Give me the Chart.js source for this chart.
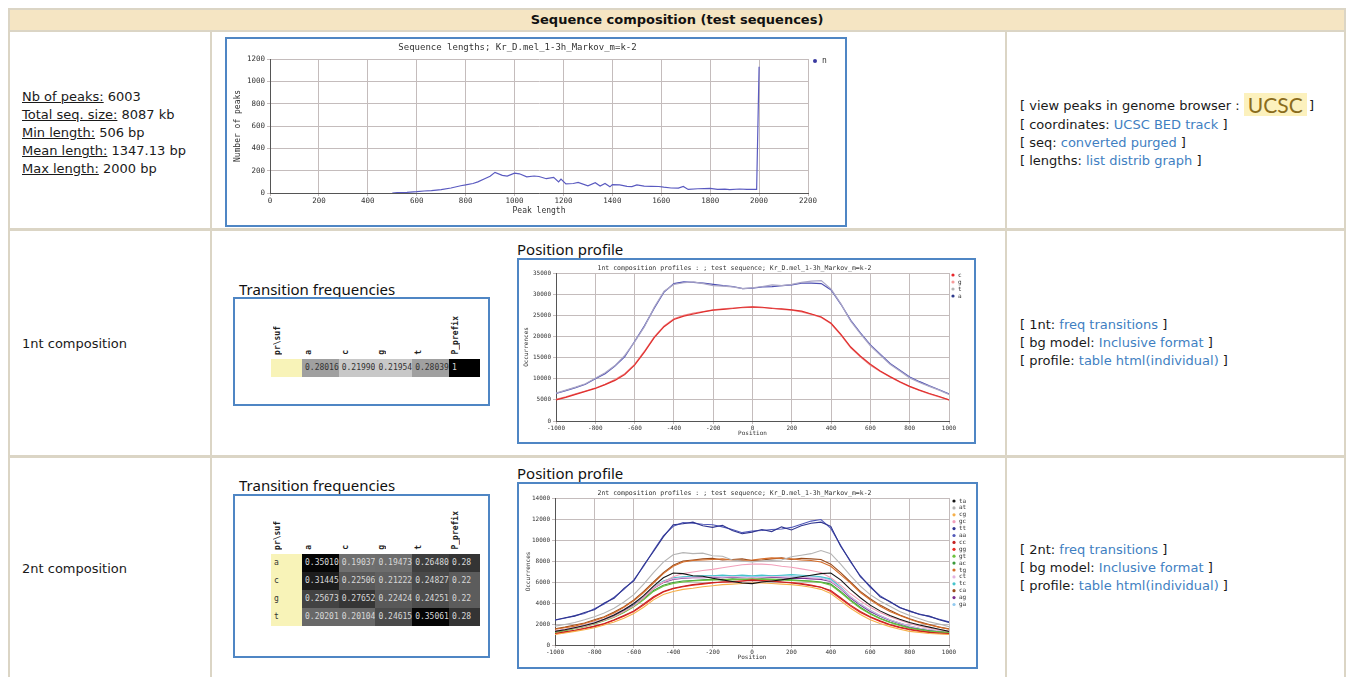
<!DOCTYPE html>
<html>
<head>
<meta charset="utf-8">
<script src="https://cdn.jsdelivr.net/npm/chart.js@4.4.1/dist/chart.umd.min.js"></script>
<style>
body{margin:0;width:1352px;height:677px;overflow:hidden;background:#fff;position:relative;
  font-family:"DejaVu Sans",Verdana,sans-serif;font-size:13px;color:#1a1a1a}
.ln{position:absolute;background:#dbd5c5}
.box{position:absolute;border:2px solid #4f86c4;box-sizing:border-box;background:#fff}
.lines{position:absolute;white-space:nowrap}
.lines div{height:18px;line-height:18px}
.lines div.tall{height:20px;line-height:20px}
a{color:#3f7fc2;text-decoration:none}
.cap{position:absolute;font-family:"Noto Sans",sans-serif;font-size:15px;color:#111;white-space:nowrap}
.ucsc{display:inline-block;height:20px;vertical-align:top;position:relative;width:61px}
.ucsc span{position:absolute;left:0;top:-3px;font-family:Lato,sans-serif;font-size:21px;line-height:23px;color:#8a6c1c;
  background:#fcf1bd;padding:0 4px}
table.tf{position:absolute;border-collapse:collapse;table-layout:fixed}
table.tf td{width:31px;height:18px;padding:0 0 0 3px;box-sizing:border-box;font:8px "DejaVu Sans Mono",monospace;white-space:nowrap;overflow:hidden}
table.tf td.th{vertical-align:bottom;padding:0 0 2px 2px}
table.tf td.th span{writing-mode:vertical-rl;transform:rotate(180deg);display:inline-block;font:bold 8px "DejaVu Sans Mono",monospace;color:#222}
table.tf td.lab{background:#f8f3b8;color:#333}
canvas{position:absolute}
</style>
</head>
<body>

<!-- table frame -->
<div class="ln" style="left:8px;top:8px;width:1338px;height:24px;background:#f5e5c3;border:2px solid #dbd5c5;box-sizing:border-box"></div>
<div style="position:absolute;left:8px;top:8px;width:1338px;height:24px;line-height:24px;text-align:center;font-weight:bold;font-size:13px;color:#111">Sequence composition (test sequences)</div>
<div class="ln" style="left:8px;top:32px;width:2px;height:645px"></div>
<div class="ln" style="left:1344px;top:32px;width:2px;height:645px"></div>
<div class="ln" style="left:210px;top:32px;width:2px;height:645px"></div>
<div class="ln" style="left:1005px;top:32px;width:2px;height:645px"></div>
<div class="ln" style="left:8px;top:228px;width:1338px;height:3px"></div>
<div class="ln" style="left:8px;top:455px;width:1338px;height:3px"></div>

<!-- column 1 -->
<div class="lines" style="left:22px;top:88px">
  <div><u>Nb of peaks:</u> 6003</div>
  <div><u>Total seq. size:</u> 8087 kb</div>
  <div><u>Min length:</u> 506 bp</div>
  <div><u>Mean length:</u> 1347.13 bp</div>
  <div><u>Max length:</u> 2000 bp</div>
</div>
<div class="lines" style="left:22px;top:335px"><div>1nt composition</div></div>
<div class="lines" style="left:22px;top:560px"><div>2nt composition</div></div>

<!-- column 3 -->
<div class="lines" style="left:1020px;top:96px">
  <div class="tall">[ view peaks in genome browser : <span class="ucsc"><span>UCSC</span></span> ]</div>
  <div>[ coordinates: <a>UCSC BED track</a> ]</div>
  <div>[ seq: <a>converted</a> <a>purged</a> ]</div>
  <div>[ lengths: <a>list</a> <a>distrib</a> <a>graph</a> ]</div>
</div>
<div class="lines" style="left:1020px;top:316px">
  <div>[ 1nt: <a>freq</a> <a>transitions</a> ]</div>
  <div>[ bg model: <a>Inclusive format</a> ]</div>
  <div>[ profile: <a>table</a> <a>html(individual)</a> ]</div>
</div>
<div class="lines" style="left:1020px;top:541px">
  <div>[ 2nt: <a>freq</a> <a>transitions</a> ]</div>
  <div>[ bg model: <a>Inclusive format</a> ]</div>
  <div>[ profile: <a>table</a> <a>html(individual)</a> ]</div>
</div>

<!-- chart boxes -->
<div class="box" style="left:225px;top:37px;width:622px;height:190px"></div>
<canvas id="lenChart" width="617" height="185" style="left:227px;top:39px"></canvas>

<div class="cap" style="left:239px;top:279px">Transition frequencies</div>
<div class="box" style="left:233px;top:297px;width:257px;height:109px"></div>
<table class="tf" id="tf1" style="left:271px;top:316px"></table>

<div class="cap" style="left:517px;top:239px">Position profile</div>
<div class="box" style="left:517px;top:258px;width:459px;height:186px"></div>
<canvas id="nt1Chart" width="453" height="182" style="left:520px;top:260px"></canvas>

<div class="cap" style="left:239px;top:475px">Transition frequencies</div>
<div class="box" style="left:233px;top:494px;width:257px;height:164px"></div>
<table class="tf" id="tf2" style="left:271px;top:511px"></table>

<div class="cap" style="left:517px;top:463px">Position profile</div>
<div class="box" style="left:517px;top:482px;width:461px;height:187px"></div>
<canvas id="nt2Chart" width="455" height="181" style="left:520px;top:485px"></canvas>

<script>
// ---- sequence lengths ----
const lenX = [500,520,560,600,630,660,700,740,780,800,830,850,880,900,920,950,970,1000,1020,1050,1080,1100,1130,1160,1180,1190,1210,1240,1260,1300,1330,1350,1370,1390,1400,1430,1460,1480,1500,1530,1560,1590,1610,1640,1670,1690,1710,1750,1800,1830,1860,1880,1920,1950,1980,1990,2000];
const lenN = [0,3,6,12,18,22,30,45,65,72,85,100,130,150,185,158,152,178,172,145,152,148,128,140,100,125,82,85,95,65,92,62,85,55,75,72,60,58,72,62,60,58,52,45,44,58,32,38,42,32,35,30,36,32,33,33,1130];
const lenXTicks = [0,200,400,600,800,1000,1200,1400,1600,1800,2000,2200];
const lenYTicks = [0,200,400,600,800,1000,1200];

// ---- position profiles ----
const pos = [-1000,-950,-900,-850,-800,-750,-700,-650,-600,-550,-500,-450,-400,-350,-300,-250,-200,-150,-100,-50,0,50,100,150,200,250,300,350,400,450,500,550,600,650,700,750,800,850,900,950,1000];
const posTicks = [-1000,-800,-600,-400,-200,0,200,400,600,800,1000];

const nt1Labels = ['c','g','t','a'];
const nt1Colors = ['#e0302f','#f08585','#aaa6c6','#4d4fb2'];
const nt1Dots = ['#e8262b','#f69a9a','#b5b5b5','#2d3a8c'];
const nt1_c = [5000,5600,6300,7000,7700,8600,9600,11000,13200,16300,19700,22300,24000,24800,25300,25800,26200,26400,26600,26900,27000,26900,26600,26500,26300,26000,25300,24600,23100,20500,17500,15300,13400,11800,10500,9300,8200,7300,6500,5800,5000];
const nt1_g = [5100,5700,6400,7100,7800,8700,9800,11200,13400,16500,19900,22500,24200,25000,25500,25900,26300,26500,26700,26800,26900,26800,26700,26400,26200,25800,25200,24500,23000,20300,17300,15100,13200,11700,10400,9200,8100,7200,6400,5700,5000];
const nt1_t = [6600,7300,8000,8800,10100,11400,13100,15500,18700,22300,26900,30700,32300,32700,32900,32500,32000,31900,31700,31300,31500,31800,32200,32000,32300,32800,33100,33200,31200,27700,23600,20600,17800,15600,13400,11800,10200,9100,8200,7300,6300];
const nt1_a = [6500,7200,7900,8700,10000,11200,13000,15200,18800,22500,26700,30500,32500,32900,32800,32600,32300,32000,31800,31300,31400,31700,31800,32000,32200,32600,32600,32500,31000,27600,23800,20800,18000,15800,13600,12000,10400,9300,8300,7400,6400];
const nt1YTicks = [0,5000,10000,15000,20000,25000,30000,35000];

const nt2Labels = ['ta','at','cg','gc','tt','aa','cc','gg','gt','ac','tg','ct','tc','ca','ag','ga'];
const nt2Colors = ['#151515','#b4b4b4','#f6b04a','#f2a0bb','#2f3590','#5058b8','#c42222','#ea2c22','#6cc23e','#3a9a3a','#d66e2a','#e2b2e0','#46c4cc','#9a4c1c','#7a2e8e','#92caf0'];
const nt2_ta = [1300,1450,1650,1850,2100,2450,2850,3350,3950,4700,5600,6400,6850,6800,6600,6550,6350,6200,6050,5900,5850,6000,6100,6200,6350,6500,6650,6800,6850,6200,5300,4500,3800,3250,2800,2450,2150,1900,1700,1500,1300];
const nt2_at = [1800,1950,2150,2400,2700,3050,3500,4100,4800,5800,6900,7900,8600,8800,8700,8750,8500,8450,8100,8000,7900,8000,8050,8100,8400,8550,8700,9000,8700,7700,6600,5600,4800,4200,3700,3200,2800,2500,2200,2000,1750];
const nt2_cg = [1000,1150,1300,1450,1650,1900,2200,2550,3000,3600,4300,4800,5100,5300,5400,5550,5650,5750,5800,5850,5900,5900,5850,5800,5750,5650,5500,5300,4900,4200,3500,2900,2400,2050,1750,1500,1300,1200,1100,1050,1000];
const nt2_gc = [1300,1450,1600,1800,2050,2350,2700,3200,3700,4500,5400,6000,6500,6800,6950,7100,7200,7350,7500,7650,7700,7700,7650,7500,7400,7250,7100,6900,6400,5700,4900,4200,3600,3100,2700,2350,2050,1800,1600,1450,1300];
const nt2_tt = [2350,2600,2750,3100,3350,4000,4450,5400,6100,7600,8900,10300,11450,11550,11700,11350,11200,11400,10900,10600,10750,11000,10800,11250,10950,11350,11600,11700,11300,9400,8000,6500,5600,4600,4150,3550,3250,2900,2750,2400,2150];
const nt2_aa = [2400,2550,2800,3000,3450,3900,4550,5300,6200,7500,9000,10400,11300,11650,11600,11500,11450,11250,11000,10700,10850,10900,11000,11050,11200,11500,11800,11950,11100,9500,7900,6600,5500,4700,4100,3600,3200,2950,2700,2450,2200];
const nt2_cc = [1100,1250,1400,1600,1800,2050,2400,2800,3250,3900,4600,5100,5400,5600,5750,5850,5950,6000,6050,6100,6150,6100,6050,6000,5900,5800,5650,5500,5200,4500,3800,3200,2700,2300,1950,1700,1500,1350,1200,1150,1100];
const nt2_gg = [1050,1200,1350,1550,1750,2000,2350,2750,3200,3800,4500,5050,5350,5550,5700,5800,5900,6000,6000,6100,6200,6150,6100,6000,5950,5850,5700,5500,5100,4400,3700,3100,2650,2250,1900,1650,1450,1300,1200,1100,1050];
const nt2_gt = [1200,1350,1550,1750,2000,2300,2650,3100,3650,4300,5100,5600,5850,6000,6100,6150,6200,6250,6200,6250,6300,6250,6250,6200,6150,6100,6050,5950,5700,5000,4200,3500,2950,2500,2150,1850,1600,1450,1300,1250,1150];
const nt2_ac = [1250,1400,1600,1800,2050,2350,2700,3150,3700,4400,5200,5700,5950,6100,6150,6200,6250,6200,6300,6250,6200,6300,6250,6250,6200,6150,6100,6000,5800,5100,4300,3600,3000,2550,2200,1900,1650,1500,1350,1250,1200];
const nt2_tg = [1500,1650,1800,2050,2300,2650,3050,3600,4200,5000,5900,6800,7500,7900,8050,8100,8150,8200,8100,8050,8100,8200,8300,8250,8200,8100,8050,7900,7500,6700,5900,5000,4300,3700,3200,2800,2450,2150,1900,1700,1500];
const nt2_ct = [1350,1500,1700,1900,2200,2500,2900,3400,3950,4650,5500,6000,6300,6400,6450,6450,6500,6450,6500,6450,6400,6450,6500,6500,6450,6450,6400,6350,6100,5400,4600,3900,3300,2800,2400,2100,1800,1600,1450,1350,1250];
const nt2_tc = [1300,1450,1650,1850,2150,2450,2850,3350,3900,4600,5500,6100,6400,6500,6550,6600,6600,6650,6600,6650,6600,6650,6600,6650,6700,6650,6600,6500,6300,5500,4600,3900,3300,2800,2400,2100,1800,1600,1450,1350,1250];
const nt2_ca = [1550,1700,1900,2100,2400,2700,3150,3650,4300,5100,6000,6900,7600,8000,8100,8200,8250,8100,8150,8200,8050,8100,8200,8300,8150,8250,8200,8150,7700,6900,6000,5100,4400,3800,3300,2850,2500,2200,1950,1700,1550];
const nt2_ag = [1300,1450,1650,1850,2100,2400,2800,3300,3850,4550,5400,5950,6250,6350,6400,6400,6450,6400,6450,6400,6400,6400,6450,6400,6350,6350,6300,6250,6050,5350,4500,3800,3200,2750,2350,2050,1750,1550,1400,1300,1200];
const nt2_ga = [1250,1400,1600,1800,2100,2400,2800,3300,3850,4550,5400,6000,6300,6450,6500,6550,6600,6550,6600,6550,6500,6550,6600,6600,6550,6500,6500,6450,6200,5400,4500,3800,3200,2750,2350,2050,1750,1550,1400,1300,1200];
const nt2YTicks = [0,2000,4000,6000,8000,10000,12000,14000];

// ---- transition frequencies ----
const tfCols = ['a','c','g','t','P_prefix'];
const tf1Rows = [''];
const tf1Freq = [[0.28016,0.21990,0.21954,0.28039,1]];
const tf2Rows = ['a','c','g','t'];
const tf2Freq = [
  [0.35010,0.19037,0.19473,0.26480,0.28],
  [0.31445,0.22506,0.21222,0.24827,0.22],
  [0.25673,0.27652,0.22424,0.24251,0.22],
  [0.20201,0.20104,0.24615,0.35061,0.28]
];

function buildTable(id, rows, freq, headH, base, ref) {
  let html = '<tr style="height:' + headH + 'px"><td class="th"><span>pr\\suf</span></td>';
  tfCols.forEach(c => { html += '<td class="th"><span>' + c + '</span></td>'; });
  html += '</tr>';
  rows.forEach((r, i) => {
    html += '<tr><td class="lab">' + r + '</td>';
    freq[i].forEach((v, j) => {
      let g = Math.round(base + (ref - v) * 667);
      g = Math.max(0, Math.min(235, g));
      const txt = j < 4 ? v.toFixed(5) : String(v);
      const fg = g < 120 ? '#d8d8d8' : '#333';
      html += '<td style="background:rgb(' + g + ',' + g + ',' + g + ');color:' + fg + '">' + txt + '</td>';
    });
    html += '</tr>';
  });
  document.getElementById(id).innerHTML = html;
}
buildTable('tf1', tf1Rows, tf1Freq, 35, 160, 0.28);
buildTable('tf2', tf2Rows, tf2Freq, 38, 5, 0.35);

// ---- charts ----
Chart.defaults.font.family = '"DejaVu Sans Mono", monospace';
Chart.defaults.color = '#333';

const sideLegend = {
  id: 'sideLegend',
  afterDraw(chart, args, o) {
    const ctx = chart.ctx, a = chart.chartArea;
    ctx.save();
    ctx.font = o.size + 'px "DejaVu Sans Mono"';
    ctx.textBaseline = 'middle';
    chart.data.datasets.forEach((ds, i) => {
      const y = a.top + o.top + i * o.step;
      ctx.fillStyle = ds.dotColor || ds.borderColor;
      ctx.beginPath();
      ctx.arc(a.right + o.dx, y, o.r, 0, Math.PI * 2);
      ctx.fill();
      ctx.fillStyle = '#333';
      ctx.fillText(ds.label, a.right + o.dx + o.gap, y);
    });
    ctx.restore();
  }
};

function fixedTicks(list) {
  return scale => { scale.ticks = list.map(v => ({ value: v })); };
}
const plain = v => String(v);

function makeChart(id, cfg) {
  return new Chart(document.getElementById(id), {
    type: 'line',
    data: { datasets: cfg.datasets },
    options: {
      responsive: false,
      animation: false,
      devicePixelRatio: 1,
      layout: { padding: { left: 0, right: cfg.padRight, top: 0, bottom: 0 } },
      elements: { point: { radius: 0 }, line: { borderWidth: cfg.lineWidth, tension: 0 } },
      plugins: {
        legend: { display: false },
        tooltip: { enabled: false },
        title: {
          display: true, text: cfg.title, color: '#333',
          font: { size: cfg.titleSize, weight: 'normal' },
          padding: cfg.titlePad
        },
        sideLegend: cfg.legend
      },
      scales: {
        x: {
          type: 'linear', min: cfg.xMin, max: cfg.xMax,
          afterBuildTicks: fixedTicks(cfg.xTicks),
          afterFit: s => { s.height = cfg.xHeight; },
          grid: { color: '#c4bcbc', tickLength: 3 },
          border: { color: '#555' },
          ticks: { font: { size: cfg.tickSize }, padding: 1, maxRotation: 0, autoSkip: false, callback: plain },
          title: { display: true, text: cfg.xTitle, font: { size: cfg.axisTitleSize }, padding: { top: 0, bottom: cfg.xTitlePad } }
        },
        y: {
          min: 0, max: cfg.yMax,
          afterBuildTicks: fixedTicks(cfg.yTicks),
          afterFit: s => { s.width = cfg.yWidth; },
          grid: { color: '#c4bcbc', tickLength: 3 },
          border: { color: '#555' },
          ticks: { font: { size: cfg.tickSize }, padding: 2, autoSkip: false, callback: plain },
          title: { display: true, text: cfg.yTitle, font: { size: cfg.axisTitleSize }, padding: { top: cfg.yTitlePad, bottom: 0 } }
        }
      }
    },
    plugins: [sideLegend]
  });
}

makeChart('lenChart', {
  title: 'Sequence lengths; Kr_D.mel_1-3h_Markov_m=k-2',
  titleSize: 9, titlePad: { top: 3, bottom: 6.2 },
  datasets: [{ label: 'n', data: lenX.map((x, i) => ({ x: x, y: lenN[i] })), borderColor: '#5a5ac0', dotColor: '#3a3aa0' }],
  xMin: 0, xMax: 2200, xTicks: lenXTicks, yMax: 1200, yTicks: lenYTicks,
  xTitle: 'Peak length', yTitle: 'Number of peaks',
  tickSize: 7.5, axisTitleSize: 8, xTitlePad: 8, yTitlePad: 6,
  xHeight: 31, yWidth: 43, padRight: 36, lineWidth: 1.2,
  legend: { dx: 7, gap: 7, top: 2, step: 8, r: 2, size: 8 }
});

const nt1Series = [nt1_c, nt1_g, nt1_t, nt1_a];
makeChart('nt1Chart', {
  title: '1nt composition profiles : ; test sequence; Kr_D.mel_1-3h_Markov_m=k-2',
  titleSize: 6.5, titlePad: { top: 4, bottom: 1.2 },
  datasets: nt1Series.map((s, k) => ({
    label: nt1Labels[k], data: pos.map((p, i) => ({ x: p, y: s[i] })),
    borderColor: nt1Colors[k], dotColor: nt1Dots[k]
  })),
  xMin: -1000, xMax: 1000, xTicks: posTicks, yMax: 35000, yTicks: nt1YTicks,
  xTitle: 'Position', yTitle: 'Occurrences',
  tickSize: 6, axisTitleSize: 6, xTitlePad: 5.4, yTitlePad: 2.4,
  xHeight: 21, yWidth: 36, padRight: 24, lineWidth: 1.2,
  legend: { dx: 4, gap: 5, top: 2, step: 7, r: 1.6, size: 6 }
});

const nt2Series = [nt2_ta, nt2_at, nt2_cg, nt2_gc, nt2_tt, nt2_aa, nt2_cc, nt2_gg, nt2_gt, nt2_ac, nt2_tg, nt2_ct, nt2_tc, nt2_ca, nt2_ag, nt2_ga];
makeChart('nt2Chart', {
  title: '2nt composition profiles : ; test sequence; Kr_D.mel_1-3h_Markov_m=k-2',
  titleSize: 6.5, titlePad: { top: 4, bottom: 1.2 },
  datasets: nt2Series.map((s, k) => ({
    label: nt2Labels[k], data: pos.map((p, i) => ({ x: p, y: s[i] })),
    borderColor: nt2Colors[k]
  })),
  xMin: -1000, xMax: 1000, xTicks: posTicks, yMax: 14000, yTicks: nt2YTicks,
  xTitle: 'Position', yTitle: 'Occurrences',
  tickSize: 6, axisTitleSize: 6, xTitlePad: 5.4, yTitlePad: 4.4,
  xHeight: 21, yWidth: 35, padRight: 26, lineWidth: 1.1,
  legend: { dx: 5, gap: 5, top: 3, step: 6.9, r: 1.6, size: 6 }
});
</script>
</body>
</html>
